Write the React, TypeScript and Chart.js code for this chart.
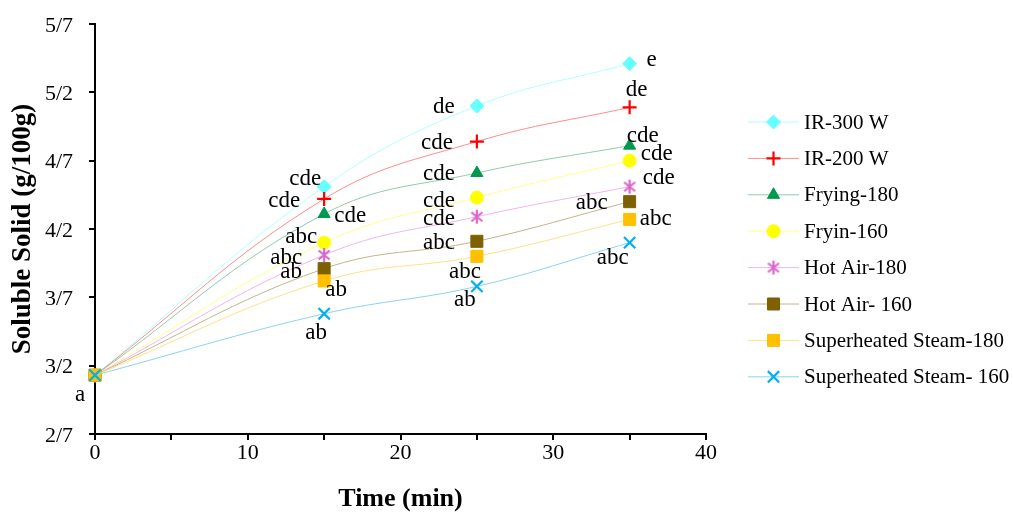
import React, { useEffect, useRef } from 'react';
import { Chart, registerables } from 'chart.js';
import { drawPoint } from 'chart.js/helpers';

Chart.register(...registerables);

// ---- data ----
const times = [0, 15, 25, 35];
const seriesNames = [
  'IR-300 W',
  'IR-200 W',
  'Frying-180',
  'Fryin-160',
  'Hot Air-180',
  'Hot Air- 160',
  'Superheated Steam-180',
  'Superheated Steam- 160',
];
const ir300 = [3.13, 4.51, 5.1, 5.41];
const ir200 = [3.13, 4.42, 4.84, 5.09];
const frying180 = [3.13, 4.31, 4.61, 4.81];
const frying160 = [3.13, 4.1, 4.43, 4.7];
const hotAir180 = [3.13, 4.01, 4.29, 4.51];
const hotAir160 = [3.13, 3.91, 4.11, 4.4];
const steam180 = [3.13, 3.82, 4.0, 4.27];
const steam160 = [3.13, 3.58, 3.78, 4.1];

const ir300Letters = ['', 'cde', 'de', 'e'];
const ir200Letters = ['', 'cde', 'cde', 'de'];
const frying180Letters = ['', 'cde', 'cde', 'cde'];
const frying160Letters = ['', 'abc', 'cde', 'cde'];
const hotAir180Letters = ['', 'abc', 'cde', 'cde'];
const hotAir160Letters = ['', 'ab', 'abc', 'abc'];
const steam180Letters = ['', 'ab', 'abc', 'abc'];
const steam160Letters = ['a', 'ab', 'ab', 'abc'];

const yTickValues = [2.7, 3.2, 3.7, 4.2, 4.7, 5.2, 5.7];
const xTickLabels = ['0', '10', '20', '30', '40'];

// ---- styles ----
const seriesValues = [ir300, ir200, frying180, frying160, hotAir180, hotAir160, steam180, steam160];
const seriesLetters = [
  ir300Letters, ir200Letters, frying180Letters, frying160Letters,
  hotAir180Letters, hotAir160Letters, steam180Letters, steam160Letters,
];
const markerColors = ['#66FFFF', '#FF0000', '#00994D', '#FFFF00', '#DD66CC', '#7F6000', '#FFC000', '#00B0F0'];
const lineColors = ['#B0FFFF', '#FF8C8C', '#8FCBAA', '#FFFF8C', '#F2B5EA', '#C4B48A', '#FFE08A', '#8AD3F2'];
const markerStyles = ['rectRot', 'cross', 'triangle', 'circle', 'asterisk', 'rect', 'rect', 'crossRot'];
const markerRadii = [7, 7, 7, 6.5, 7, 8.5, 8.5, 8];
const labelOffsets = [
  [[0, 0], [-19, -8], [-33, 1], [22, -4]],
  [[0, 0], [-40, 2], [-40, 1], [7, -17]],
  [[0, 0], [26, 2], [-38, 1], [13, -10]],
  [[0, 0], [-23, -6], [-38, 3], [27, -7]],
  [[0, 0], [-38, 3], [-38, 2], [29, -9]],
  [[0, 0], [-33, 3], [-38, 2], [-38, 1]],
  [[0, 0], [12, 9], [-12, 16], [26, 0]],
  [[-15, 20], [-8, 19], [-12, 14], [-17, 15]],
];

const SERIF = '"Liberation Serif", "Times New Roman", serif';

function makeAsterisk(color: string): HTMLCanvasElement {
  const c = document.createElement('canvas');
  c.width = 16;
  c.height = 16;
  const g = c.getContext('2d')!;
  g.strokeStyle = color;
  g.lineWidth = 2.2;
  g.beginPath();
  g.moveTo(8, 1);
  g.lineTo(8, 15);
  g.moveTo(2.5, 3.5);
  g.lineTo(13.5, 12.5);
  g.moveTo(13.5, 3.5);
  g.lineTo(2.5, 12.5);
  g.stroke();
  return c;
}

export default function App() {
  const canvasRef = useRef<HTMLCanvasElement | null>(null);

  useEffect(() => {
    const canvas = canvasRef.current;
    if (!canvas) return;

    const styles: any[] = markerStyles.map((s, i) => (s === 'asterisk' ? makeAsterisk(markerColors[i]) : s));

    const datasets = seriesNames.map((name, i) => {
      const filled = !(styles[i] === 'cross' || styles[i] === 'crossRot');
      return {
        label: name,
        data: times.map((t, j) => ({ x: t, y: seriesValues[i][j] })),
        borderColor: lineColors[i],
        borderWidth: 1,
        tension: 0.4,
        pointStyle: styles[i],
        pointRadius: markerRadii[i],
        pointBackgroundColor: markerColors[i],
        pointBorderColor: markerColors[i],
        pointBorderWidth: filled ? 1 : 2.2,
        pointHoverRadius: markerRadii[i],
        clip: false as any,
        order: seriesNames.length - i,
      };
    });

    const letterPlugin = {
      id: 'letters',
      afterDatasetsDraw(chart: any) {
        const ctx = chart.ctx;
        ctx.save();
        ctx.font = `23px ${SERIF}`;
        ctx.fillStyle = '#000';
        ctx.textAlign = 'center';
        ctx.textBaseline = 'middle';
        chart.data.datasets.forEach((_: any, i: number) => {
          const meta = chart.getDatasetMeta(i);
          meta.data.forEach((pt: any, j: number) => {
            const txt = seriesLetters[i][j];
            if (!txt) return;
            const [dx, dy] = labelOffsets[i][j];
            ctx.fillText(txt, pt.x + dx, pt.y + dy);
          });
        });
        ctx.restore();
      },
    };

    const legendPlugin = {
      id: 'lineLegend',
      afterDraw(chart: any) {
        const ctx = chart.ctx;
        ctx.save();
        const x0 = 748;
        const x1 = 799;
        const y0 = 122;
        const gap = 36.4;
        chart.data.datasets.forEach((ds: any, i: number) => {
          const y = y0 + i * gap;
          ctx.strokeStyle = ds.borderColor;
          ctx.lineWidth = 1;
          ctx.beginPath();
          ctx.moveTo(x0, y);
          ctx.lineTo(x1, y);
          ctx.stroke();
          ctx.fillStyle = ds.pointBackgroundColor;
          ctx.strokeStyle = ds.pointBorderColor;
          ctx.lineWidth = ds.pointBorderWidth;
          drawPoint(ctx, { pointStyle: ds.pointStyle, radius: ds.pointRadius, borderWidth: ds.pointBorderWidth, rotation: 0 } as any, (x0 + x1) / 2, y);
          ctx.fillStyle = '#000';
          ctx.font = `21px ${SERIF}`;
          ctx.textAlign = 'left';
          ctx.textBaseline = 'middle';
          ctx.fillText(ds.label, 804, y + 1);
        });
        ctx.restore();
      },
    };

    const chart = new Chart(canvas, {
      type: 'line',
      data: { datasets: datasets as any },
      options: {
        animation: false,
        responsive: false,
        maintainAspectRatio: false,
        layout: { padding: { left: 0, top: 24, right: 307, bottom: 0 }, autoPadding: false },
        plugins: {
          legend: { display: false },
          tooltip: { enabled: false },
        },
        scales: {
          x: {
            type: 'linear',
            min: 0,
            max: 40,
            ticks: {
              stepSize: 5,
              color: '#000',
              font: { family: SERIF, size: 22 },
              padding: 0,
              maxRotation: 0,
              autoSkip: false,
              callback: (v: any) => {
                const s = String(v);
                return xTickLabels.includes(s) ? s : '';
              },
            },
            grid: { drawOnChartArea: false, drawTicks: true, tickLength: 6, color: '#000', lineWidth: 2 },
            border: { display: true, color: '#000', width: 2 },
            title: {
              display: true,
              text: 'Time (min)',
              color: '#000',
              font: { family: SERIF, size: 26, weight: 'bold', lineHeight: 1.0 },
              padding: { top: 0, bottom: 0 },
            },
            afterFit: (scale: any) => {
              scale.height = 512 - 434;
              scale.paddingLeft = 0;
              scale.paddingRight = 0;
            },
          },
          y: {
            type: 'linear',
            min: 2.7,
            max: 5.7,
            afterBuildTicks: (scale: any) => {
              scale.ticks = yTickValues.map((v) => ({ value: v }));
            },
            ticks: {
              color: '#000',
              font: { family: SERIF, size: 22 },
              padding: 16,
              labelOffset: 2,
              callback: (v: any) => Number(v).toFixed(1).replace('.', '/'),
            },
            grid: { drawOnChartArea: false, drawTicks: true, tickLength: 6, color: '#000', lineWidth: 2 },
            border: { display: true, color: '#000', width: 2 },
            title: {
              display: true,
              text: 'Soluble Solid (g/100g)',
              color: '#000',
              font: { family: SERIF, size: 27, weight: 'bold' },
              padding: { top: 7, bottom: 0 },
            },
            afterFit: (scale: any) => {
              scale.width = 95;
              scale.paddingTop = 0;
              scale.paddingBottom = 0;
            },
          },
        },
      },
      plugins: [letterPlugin, legendPlugin],
    });

    return () => chart.destroy();
  }, []);

  return (
    <div style={{ position: 'absolute', left: 0, top: 0, width: 1013, height: 512, background: '#fff' }}>
      <canvas ref={canvasRef} width={1013} height={512} style={{ width: 1013, height: 512 }} />
    </div>
  );
}
